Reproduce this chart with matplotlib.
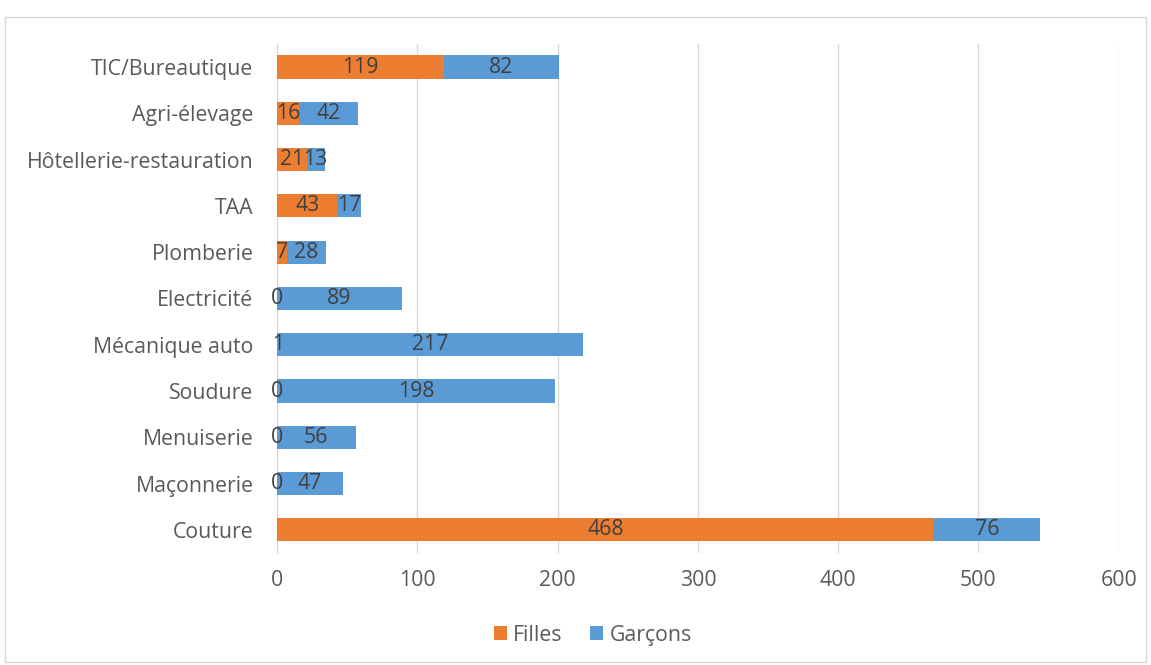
import matplotlib.pyplot as plt
from matplotlib.patches import Rectangle

categories = ["Couture", "Maçonnerie", "Menuiserie", "Soudure", "Mécanique auto",
              "Electricité", "Plomberie", "TAA", "Hôtellerie-restauration",
              "Agri-élevage", "TIC/Bureautique"]
filles = [468, 0, 0, 0, 1, 0, 7, 43, 21, 16, 119]
garcons = [76, 47, 56, 198, 217, 89, 28, 17, 13, 42, 82]

orange = "#ED7D31"
blue = "#5B9BD5"
text_col = "#404040"
fs = 15.3

plt.rcParams['font.family'] = ['Open Sans', 'DejaVu Sans']

fig = plt.figure(figsize=(11.51, 6.65), dpi=100)
ax = fig.add_axes([0.2407, 0.1684, 0.7313, 0.7656])

y = range(len(categories))
ax.barh(y, filles, height=0.5, color=orange, label="Filles", zorder=3)
ax.barh(y, garcons, left=filles, height=0.5, color=blue, label="Garçons", zorder=3)

for i, (f, g) in enumerate(zip(filles, garcons)):
    ax.text(f / 2, i, str(f), ha="center", va="center", fontsize=fs, color=text_col, zorder=4)
    ax.text(f + g / 2, i, str(g), ha="center", va="center", fontsize=fs, color=text_col, zorder=4)

ax.set_xlim(0, 600)
ax.set_ylim(-0.5, len(categories) - 0.5)
ax.set_xticks(range(0, 601, 100))
ax.set_yticks(list(y))
ax.set_yticklabels(categories)
ax.tick_params(axis="both", length=0, labelsize=fs, labelcolor="#595959")
ax.tick_params(axis="x", pad=12)
ax.tick_params(axis="y", pad=17)
ax.grid(axis="x", color="#D9D9D9", linewidth=1, zorder=0)
for s in ["top", "right", "bottom"]:
    ax.spines[s].set_visible(False)
ax.spines["left"].set_color("#D9D9D9")

leg = fig.legend(loc="center", bbox_to_anchor=(0.515, 0.045), ncol=2, frameon=False,
                 fontsize=fs, handlelength=0.6, handleheight=0.6, columnspacing=1.3,
                 handletextpad=0.3)
for t in leg.get_texts():
    t.set_color("#595959")

fig.patches.append(Rectangle((0.004, 0.004), 0.992, 0.97, transform=fig.transFigure,
                             fill=False, edgecolor="#D9D9D9", linewidth=1))

fig.savefig("out.png", dpi=100)
